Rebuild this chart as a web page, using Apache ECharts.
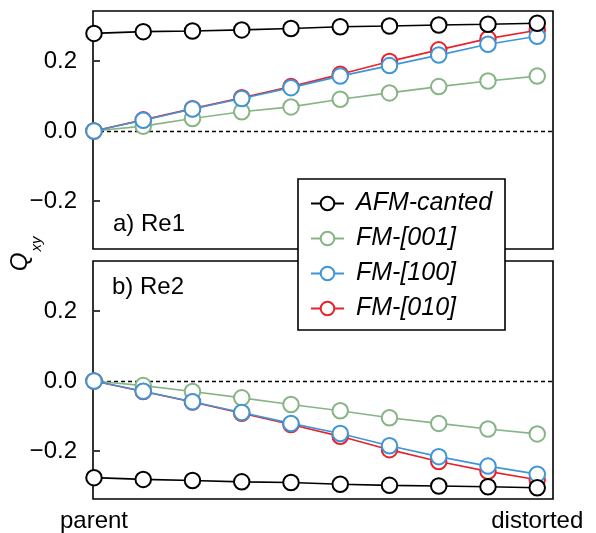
<!DOCTYPE html>
<html><head><meta charset="utf-8">
<script src="https://cdn.jsdelivr.net/npm/echarts@6/dist/echarts.min.js"></script>
<style>html,body{margin:0;padding:0;background:#fff}#c{width:596px;height:533px}</style>
</head><body><div id="c"></div>
<script>
const steps = [0, 1, 2, 3, 4, 5, 6, 7, 8, 9];
const xTickValues = [0, 9];
const xTickLabels = ['parent', 'distorted'];
const yTickValues = [-0.2, 0, 0.2];
const yTickLabels = ['\u22120.2', '0.0', '0.2'];
const seriesNames = ['AFM-canted', 'FM-[001]', 'FM-[100]', 'FM-[010]'];

// Panel a) Re1
const re1_afm   = [0.279, 0.284, 0.286, 0.289, 0.293, 0.298, 0.300, 0.303, 0.305, 0.308];
const re1_fm001 = [0.000, 0.014, 0.036, 0.055, 0.069, 0.091, 0.109, 0.127, 0.143, 0.157];
const re1_fm100 = [0.000, 0.031, 0.063, 0.093, 0.124, 0.157, 0.187, 0.217, 0.248, 0.271];
const re1_fm010 = [0.000, 0.032, 0.064, 0.095, 0.127, 0.162, 0.199, 0.232, 0.264, 0.288];

// Panel b) Re2
const re2_afm   = [-0.276, -0.281, -0.284, -0.288, -0.290, -0.295, -0.298, -0.300, -0.302, -0.305];
const re2_fm001 = [0.000, -0.013, -0.030, -0.048, -0.067, -0.085, -0.105, -0.121, -0.137, -0.151];
const re2_fm100 = [0.000, -0.029, -0.059, -0.090, -0.121, -0.150, -0.185, -0.216, -0.243, -0.266];
const re2_fm010 = [0.000, -0.030, -0.060, -0.092, -0.124, -0.158, -0.196, -0.230, -0.258, -0.282];

const colors = {
  'AFM-canted': '#000000',
  'FM-[001]': '#86b486',
  'FM-[100]': '#3f95d6',
  'FM-[010]': '#e8232c'
};

const FONT = 'Liberation Sans';

function pairs(vals) { return steps.map((s, i) => [s, vals[i]]); }

function mk(name, vals, idx, z, withZeroLine) {
  const c = colors[name];
  const s = {
    name: name, type: 'line',
    xAxisIndex: idx, yAxisIndex: idx,
    data: pairs(vals),
    symbol: 'circle', symbolSize: 15.5,
    showAllSymbol: true,
    z: z,
    lineStyle: { color: c, width: 1.6 },
    itemStyle: { color: '#ffffff', borderColor: c, borderWidth: 2 },
    emphasis: { disabled: true },
    animation: false
  };
  if (withZeroLine) {
    s.markLine = {
      silent: true, symbol: 'none',
      label: { show: false },
      lineStyle: { color: '#000', width: 1.4, type: [4, 3] },
      data: [{ yAxis: 0 }],
      z: 1
    };
  }
  return s;
}

function yAxisFor(idx) {
  return {
    type: 'value', gridIndex: idx,
    min: -0.337, max: 0.343,
    splitLine: { show: false },
    axisLine: { show: false },
    axisTick: { show: true, inside: true, length: 6, customValues: yTickValues,
                lineStyle: { color: '#000', width: 1.5 } },
    axisLabel: {
      show: true, customValues: yTickValues, margin: 16,
      fontFamily: FONT, fontSize: 24, color: '#000',
      formatter: v => {
        const i = yTickValues.findIndex(t => Math.abs(t - v) < 1e-9);
        return i >= 0 ? yTickLabels[i] : '';
      }
    }
  };
}

function xAxisFor(idx, showLabels) {
  return {
    type: 'value', gridIndex: idx,
    min: -0.02, max: 9.32,
    splitLine: { show: false },
    axisLine: { show: false },
    axisTick: { show: false },
    axisLabel: {
      show: showLabels, customValues: xTickValues, margin: 10,
      fontFamily: FONT, fontSize: 24, color: '#000',
      formatter: v => {
        const i = xTickValues.findIndex(t => Math.abs(t - v) < 1e-9);
        return i >= 0 ? xTickLabels[i] : '';
      }
    }
  };
}

const chart = echarts.init(document.getElementById('c'), null, { renderer: 'canvas' });
chart.setOption({
  animation: false,
  backgroundColor: '#ffffff',
  grid: [
    { left: 93, top: 11, width: 460, height: 238, show: true, borderColor: '#000', borderWidth: 1.6, backgroundColor: 'transparent' },
    { left: 93, top: 261, width: 460, height: 238, show: true, borderColor: '#000', borderWidth: 1.6, backgroundColor: 'transparent' }
  ],
  xAxis: [xAxisFor(0, false), xAxisFor(1, true)],
  yAxis: [yAxisFor(0), yAxisFor(1)],
  legend: {
    data: seriesNames,
    orient: 'vertical',
    left: 298, top: 179,
    padding: [12, 12, 11, 12],
    itemWidth: 33, itemHeight: 17, itemGap: 10,
    backgroundColor: 'transparent',
    borderWidth: 0,
    selectedMode: false,
    z: 20,
    textStyle: { fontFamily: FONT, fontSize: 25, fontStyle: 'italic', color: '#000', padding: [0, 0, 0, 7] }
  },
  graphic: [
    { type: 'rect', z: 15, shape: { x: 298, y: 179, width: 207, height: 151 },
      style: { fill: '#fff', stroke: '#000', lineWidth: 1.6 } },
    { type: 'text', x: 113, y: 224, z: 16,
      style: { text: 'a) Re1', font: '24px "Liberation Sans"', fill: '#000', verticalAlign: 'middle' } },
    { type: 'text', x: 112, y: 287, z: 16,
      style: { text: 'b) Re2', font: '24px "Liberation Sans"', fill: '#000', verticalAlign: 'middle' } },
    { type: 'text', x: 20, y: 262, rotation: Math.PI / 2, z: 16,
      style: { text: 'Q', font: 'italic 24px "Liberation Sans"', fill: '#000', align: 'center', verticalAlign: 'middle' } },
    { type: 'text', x: 37, y: 244, rotation: Math.PI / 2, z: 16,
      style: { text: 'xy', font: 'italic 15px "Liberation Sans"', fill: '#000', align: 'center', verticalAlign: 'middle' } }
  ],
  series: [
    mk('FM-[001]', re1_fm001, 0, 2, true),
    mk('FM-[010]', re1_fm010, 0, 3, false),
    mk('FM-[100]', re1_fm100, 0, 4, false),
    mk('AFM-canted', re1_afm, 0, 5, false),
    mk('FM-[001]', re2_fm001, 1, 2, true),
    mk('FM-[010]', re2_fm010, 1, 3, false),
    mk('FM-[100]', re2_fm100, 1, 4, false),
    mk('AFM-canted', re2_afm, 1, 5, false)
  ]
});
</script>
</body></html>
